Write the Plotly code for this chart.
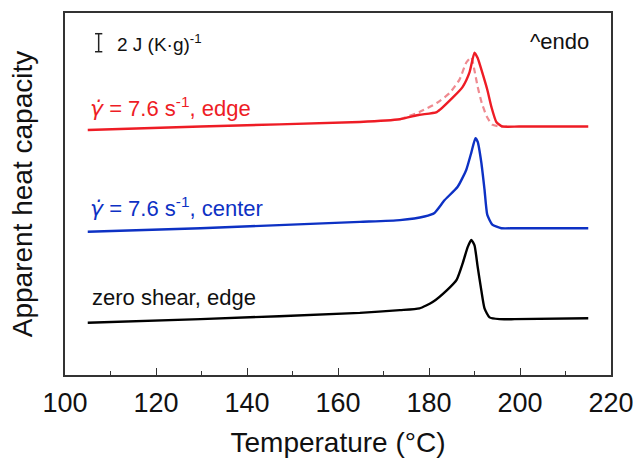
import plotly.graph_objects as go

# Temperature (°C) and apparent heat capacity (offset, J/(K·g)) per curve
edge_T = [105.0, 129.8, 164.8, 173.6, 177.9, 181.7, 185.2, 187.4, 188.9, 190.0,
          190.7, 191.7, 192.8, 193.7, 194.8, 196.1, 199.8, 215.0]
edge_cp = [27.2, 27.6, 28.1, 28.4, 28.9, 29.2, 30.8, 32.0, 33.6, 35.8,
           35.2, 33.6, 31.7, 29.8, 28.1, 27.6, 27.6, 27.6]

edge_ref_T = [173.6, 177.9, 181.7, 184.5, 186.7, 188.2, 189.3, 190.0, 190.7,
              191.6, 192.7, 193.9, 195.5, 197.7]
edge_ref_cp = [28.4, 29.2, 30.2, 31.3, 32.8, 34.7, 35.3, 33.8, 32.0,
               30.2, 28.7, 27.8, 27.6, 27.6]

center_T = [105.0, 129.8, 164.8, 173.6, 179.0, 181.2, 183.4, 186.3, 188.2, 189.3,
            190.2, 190.7, 191.5, 192.2, 192.8, 193.9, 195.9, 198.8, 215.0]
center_cp = [15.9, 16.3, 17.0, 17.2, 17.6, 18.0, 19.4, 20.9, 22.8, 24.7,
             26.3, 25.9, 23.6, 20.6, 17.8, 16.7, 16.3, 16.3, 16.3]

zero_T = [105.0, 129.8, 164.8, 173.6, 177.9, 180.8, 183.9, 186.1, 187.4, 188.5,
          189.3, 190.0, 190.7, 191.5, 192.2, 193.3, 195.5, 198.8, 215.0]
zero_cp = [5.8, 6.2, 6.9, 7.2, 7.4, 8.1, 9.4, 10.6, 12.4, 14.2,
           15.0, 14.4, 12.0, 9.4, 7.4, 6.4, 6.2, 6.2, 6.3]

x_ticks = [100, 120, 140, 160, 180, 200, 220]
scale_bar = 2.0  # J (K·g)^-1

RED = "#ee1c25"
PINK = "#ef8a90"
BLUE = "#0d31c4"
BLACK = "#000000"
FONT = "Liberation Sans, Arial, sans-serif"
GAMMA = '<span style="font-family:DejaVu Sans"><i>γ̇</i></span>'

fig = go.Figure()
fig.add_trace(go.Scatter(x=edge_ref_T, y=edge_ref_cp, mode="lines",
                         line=dict(color=PINK, width=2.2, dash="6px,4px", shape="spline", smoothing=0.5),
                         showlegend=False, hoverinfo="skip"))
fig.add_trace(go.Scatter(x=edge_T, y=edge_cp, mode="lines",
                         line=dict(color=RED, width=2.4, shape="spline", smoothing=0.5),
                         showlegend=False))
fig.add_trace(go.Scatter(x=center_T, y=center_cp, mode="lines",
                         line=dict(color=BLUE, width=2.4, shape="spline", smoothing=0.5),
                         showlegend=False))
fig.add_trace(go.Scatter(x=zero_T, y=zero_cp, mode="lines",
                         line=dict(color=BLACK, width=2.4, shape="spline", smoothing=0.5),
                         showlegend=False))

# scale bar
bx, by0 = 107.4, 35.9
fig.add_shape(type="line", x0=bx, x1=bx, y0=by0, y1=by0 + scale_bar, xref="x", yref="y",
              line=dict(color="#222", width=1.5))
for yy in (by0, by0 + scale_bar):
    fig.add_shape(type="line", x0=bx - 0.8, x1=bx + 0.8, y0=yy, y1=yy, xref="x", yref="y",
                  line=dict(color="#222", width=1.5))

ann = [
    dict(x=111.0, y=by0 + scale_bar / 2, text="2 J (K·g)<sup>-1</sup>", color="#111", size=19, xanchor="left"),
    dict(x=215.6, y=37.0, text="^endo", color="#111", size=22, xanchor="right"),
    dict(x=105.0, y=29.8, text=GAMMA + " = 7.6 s<sup>-1</sup>, edge", color=RED, size=22, xanchor="left"),
    dict(x=105.0, y=18.7, text=GAMMA + " = 7.6 s<sup>-1</sup>, center", color=BLUE, size=22, xanchor="left"),
    dict(x=105.6, y=8.6, text="zero shear, edge", color="#111", size=22, xanchor="left"),
]
for a in ann:
    fig.add_annotation(x=a["x"], y=a["y"], xref="x", yref="y", text=a["text"], showarrow=False,
                       xanchor=a["xanchor"], yanchor="middle",
                       font=dict(family=FONT, size=a["size"], color=a["color"]))

fig.update_layout(
    width=633, height=462,
    margin=dict(l=65, r=22, t=13, b=87),
    paper_bgcolor="white", plot_bgcolor="white",
    font=dict(family=FONT, color="#111"),
    xaxis=dict(range=[100, 220], tickvals=x_ticks, ticktext=[str(v) for v in x_ticks],
               automargin=False, ticklabeloverflow="allow", ticklabelstandoff=3,
               ticks="inside", ticklen=7, tickwidth=1.3, tickcolor="#333",
               minor=dict(ticks="inside", ticklen=4, tickwidth=1.2, tickcolor="#333", dtick=10, showgrid=False),
               showline=True, linecolor="#333", linewidth=1.8, mirror=True, showgrid=False, zeroline=False,
               tickfont=dict(size=27, color="#111"),
               title=dict(text="Temperature (°C)", font=dict(size=28, color="#111"), standoff=15)),
    yaxis=dict(range=[0, 40.2], showticklabels=False, ticks="", showline=True, linecolor="#333",
               automargin=False,
               linewidth=1.8, mirror=True, showgrid=False, zeroline=False,
               title=dict(text="Apparent heat capacity", font=dict(size=28, color="#111"), standoff=22)),
)

fig.write_html("out.html", config={"displayModeBar": False},
               post_script="document.body.style.margin='0';document.body.style.overflow='hidden';")
